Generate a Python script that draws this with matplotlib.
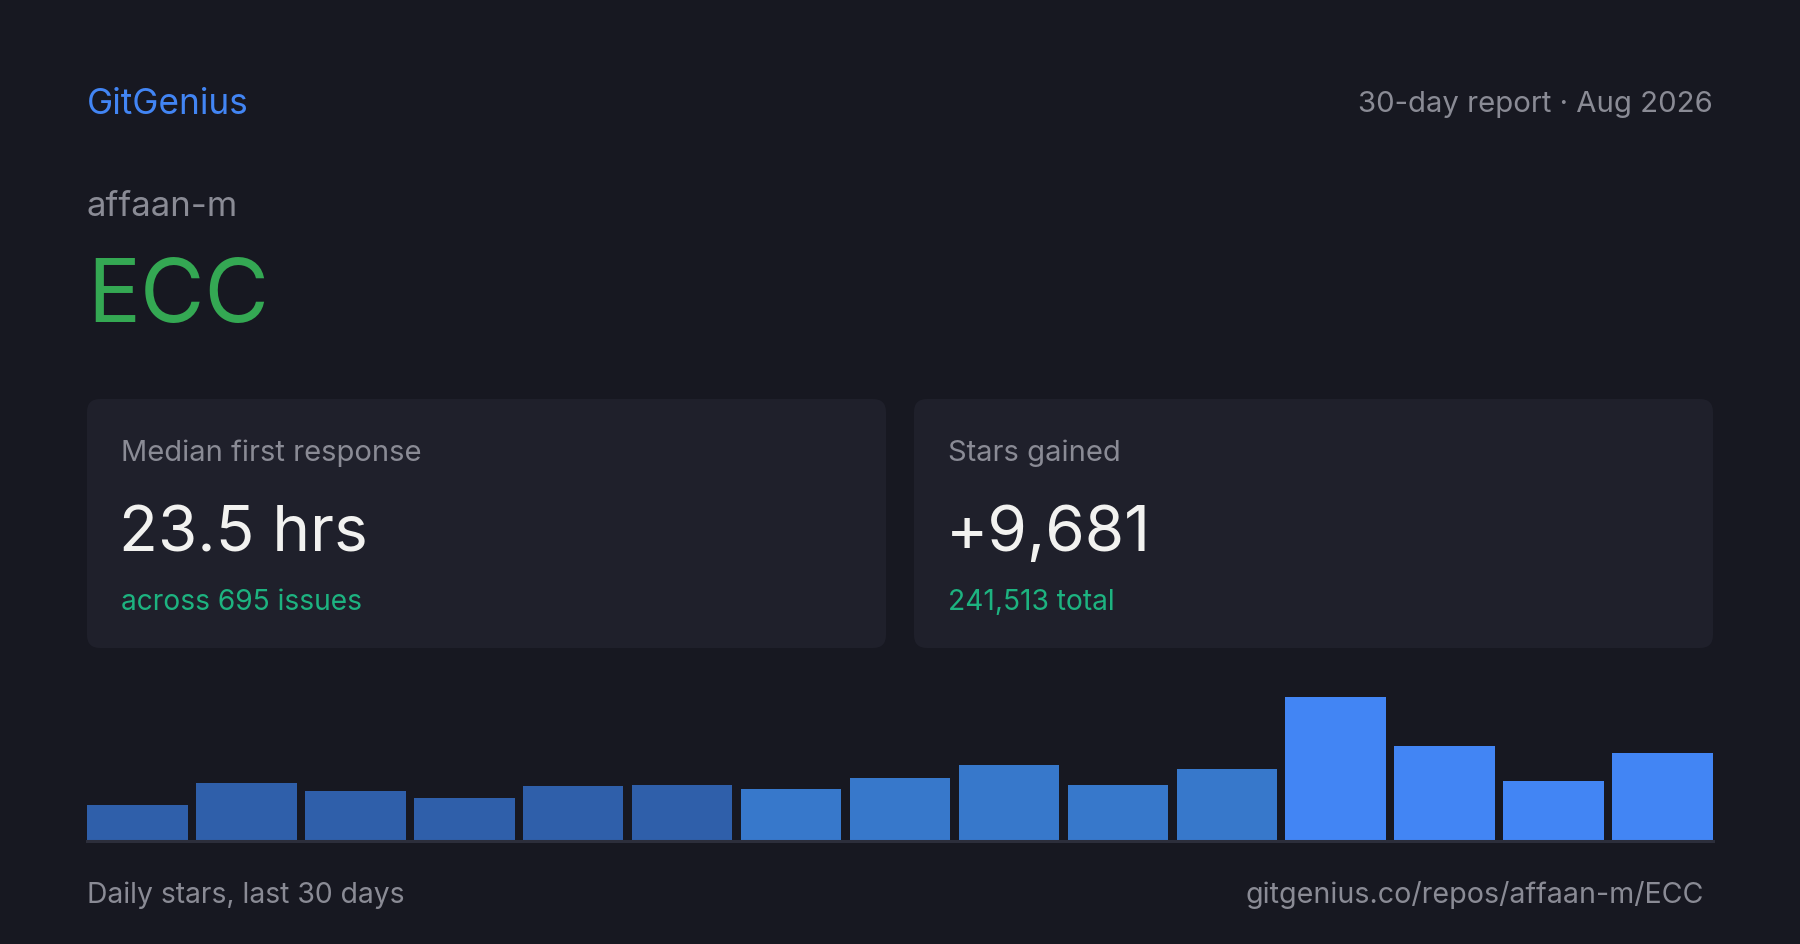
import matplotlib
matplotlib.use("Agg")
import matplotlib.pyplot as plt
from matplotlib.patches import FancyBboxPatch

plt.rcParams['font.family'] = ['Inter', 'DejaVu Sans']

# ---- data ----
brand = "GitGenius"
report_label = "30-day report · Aug 2026"
owner = "affaan-m"
repo = "ECC"
card_titles = ["Median first response", "Stars gained"]
card_values = ["23.5 hrs", "+9,681"]
card_subs = ["across 695 issues", "241,513 total"]
daily_stars = [347, 559, 482, 415, 530, 540, 501, 607, 733, 540, 694, 1388, 916, 578, 848]
bar_colors = ["#2f5faa"] * 6 + ["#3778cb"] * 5 + ["#4285f4"] * 4
footer_left = "Daily stars, last 30 days"
footer_right = "gitgenius.co/repos/affaan-m/ECC"

BG = "#171821"
CARD = "#1f202b"
GRAY = "#8a8b95"
BLUE = "#4285f4"
GREEN = "#34a853"
TEAL = "#1db380"
WHITE = "#f2f2f0"

W, H = 1800, 945
fig = plt.figure(figsize=(W / 100, H / 100), dpi=100, facecolor=BG)
ov = fig.add_axes([0, 0, 1, 1])
ov.set_xlim(0, W)
ov.set_ylim(H, 0)
ov.axis("off")
ov.set_facecolor(BG)

# header
ov.text(87, 114, brand, color=BLUE, fontsize=25.3, va="baseline", ha="left")
ov.text(1713, 112, report_label, color=GRAY, fontsize=21.1, va="baseline", ha="right")
ov.text(87, 216, owner, color=GRAY, fontsize=25, va="baseline", ha="left")
ov.text(87, 322, repo, color=GREEN, fontsize=63.5, va="baseline", ha="left")

# cards
card_x = [87, 914]
card_w = 799
card_top, card_bot = 400, 649
for i in range(2):
    x0 = card_x[i]
    p = FancyBboxPatch((x0, card_top), card_w, card_bot - card_top,
                       boxstyle="round,pad=0,rounding_size=13",
                       facecolor=CARD, edgecolor="none")
    ov.add_patch(p)
    tx = x0 + 34
    ov.text(tx, 461, card_titles[i], color=GRAY, fontsize=21, va="baseline", ha="left")
    ov.text(tx - 2, 551, card_values[i], color=WHITE, fontsize=46, va="baseline", ha="left")
    ov.text(tx, 610, card_subs[i], color=TEAL, fontsize=20.3, va="baseline", ha="left")

# footer
ov.text(87, 903, footer_left, color=GRAY, fontsize=20.4, va="baseline", ha="left")
ov.text(1704, 903, footer_right, color=GRAY, fontsize=20.6, va="baseline", ha="right")

# bar chart
x_left, x_right = 87, 1713
y_base, y_top = 842, 698
bx = fig.add_axes([x_left / W, (H - y_base) / H, (x_right - x_left) / W, (y_base - y_top) / H])
bx.set_facecolor("none")
n = len(daily_stars)
bw = 0.924
bx.bar(range(n), daily_stars, width=bw, color=bar_colors, edgecolor="none", zorder=2)
bx.set_xlim(-bw / 2, n - 1 + bw / 2)
bx.set_ylim(0, max(daily_stars))
bx.axhline(0, color="#2c2e3b", linewidth=2.2, zorder=3, clip_on=False)
bx.axis("off")

fig.savefig("out.png", dpi=100, facecolor=BG)
